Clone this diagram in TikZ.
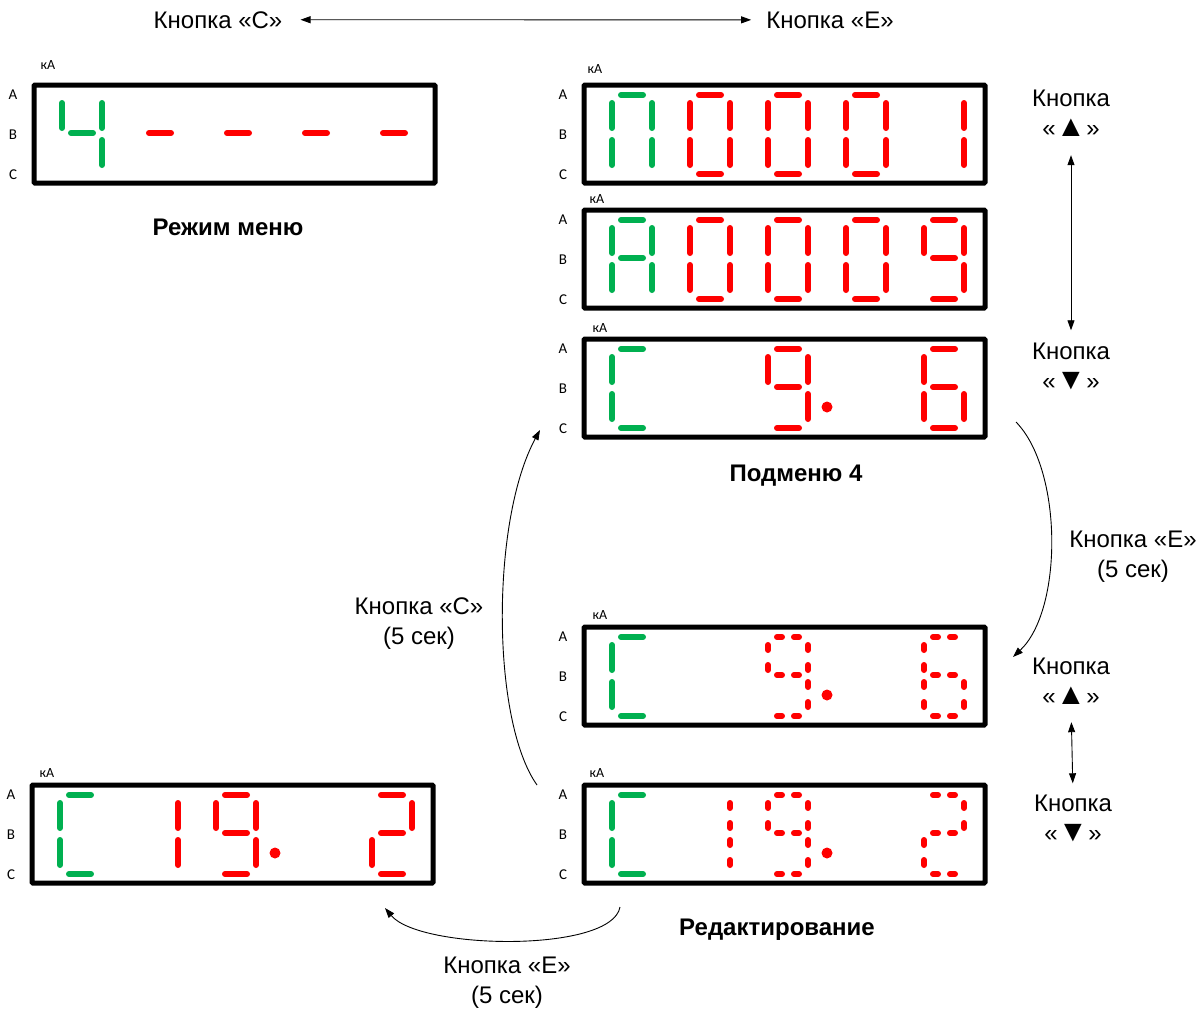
\documentclass[tikz,border=0pt]{standalone}
\usepackage{fontspec}
\setmainfont{Liberation Sans}
\newfontfamily\calfont{Carlito}
\usetikzlibrary{arrows.meta,calc}
\definecolor{sgreen}{RGB}{0,176,80}
\definecolor{sred}{RGB}{255,0,0}
\newcommand\SEGa[2]{\draw[seg,#1,#2h] (9,10) -- (31,10);}
\newcommand\SEGb[2]{\draw[seg,#1,#2v] (40,18) -- (40,43);}
\newcommand\SEGc[2]{\draw[seg,#1,#2v] (40,55) -- (40,80);}
\newcommand\SEGd[2]{\draw[seg,#1,#2h] (9,89) -- (31,89);}
\newcommand\SEGe[2]{\draw[seg,#1,#2v] (0,55) -- (0,80);}
\newcommand\SEGf[2]{\draw[seg,#1,#2v] (0,18) -- (0,43);}
\newcommand\SEGg[2]{\draw[seg,#1,#2h] (9,48) -- (31,48);}
\newcommand\digitat[5]{\begin{scope}[shift={(#1,#2)}]\foreach \s in {#5}{\csname SEG\s\endcsname{#3}{#4}}\end{scope}}
\newcommand\display[5]{%
  \node[dbox] (#1) at (#2+200.5,#3+49) {};
  \node[abc] (#1A) at (#2-21,#3+10) {A};
  \node[abc] (#1B) at (#2-21,#3+50) {B};
  \node[abc] (#1C) at (#2-21,#3+90) {C};
  \node[ka] (#1K) at (#4,#5) {кА};}
\newcommand\dotat[2]{\fill[sred] (#1+243,#2+68) circle (5.5);}
\newcommand\gap{\hspace{0.5pt}}
\newcommand\upT{{\fontsize{30}{30}\selectfont ▲}}
\newcommand\dnT{{\fontsize{30}{30}\selectfont ▼}}
\begin{document}
\begin{tikzpicture}[x=1pt,y=-1pt,
  seg/.style={line width=6pt,line cap=round},
  gr/.style={draw=sgreen}, rd/.style={draw=sred},
  segSh/.style={}, segSv/.style={},
  segDh/.style={dash pattern=on 5pt off 12pt},
  segDv/.style={dash pattern=on 5pt off 15pt},
  dbox/.style={draw,line width=5pt,rounded corners=1pt,minimum width=401pt,minimum height=98pt,inner sep=0pt},
  abc/.style={font=\calfont\fontsize{15}{18}\selectfont,inner sep=0pt},
  ka/.style={font=\calfont\fontsize{14}{16}\selectfont,inner sep=0pt},
  lbl/.style={font=\fontsize{24}{30}\selectfont,align=center,inner sep=0pt,anchor=base},
  bl/.style={font=\fontsize{24}{28}\selectfont\bfseries,inner sep=0pt,anchor=base},
  conn/.style={line width=0.9pt},
  >={Triangle[length=10pt,width=7pt]}]
\useasboundingbox (0,0) rectangle (1202,1009);
% displays
\display{D1}{34}{85}{48}{65}
\display{D2}{584}{85}{595}{69}
\display{D3}{584}{210}{597}{199}
\display{D4}{584}{339}{600}{328}
\display{D5}{584}{627}{600}{615}
\display{D6}{584}{785}{597}{773}
\display{D7}{32}{785}{47}{773}
% D1: 4 - - - -
\digitat{62}{85}{gr}{segS}{b,c,f,g}
\foreach \xx in {140,218,296,374}{\digitat{\xx}{85}{rd}{segS}{g}}
% D2: П0001
\digitat{612}{85}{gr}{segS}{a,b,c,e,f}
\foreach \xx in {690,768,846}{\digitat{\xx}{85}{rd}{segS}{a,b,c,d,e,f}}
\digitat{924}{85}{rd}{segS}{b,c}
% D3: A0009
\digitat{612}{210}{gr}{segS}{a,b,c,e,f,g}
\foreach \xx in {690,768,846}{\digitat{\xx}{210}{rd}{segS}{a,b,c,d,e,f}}
\digitat{924}{210}{rd}{segS}{a,b,c,d,f,g}
% D4: C 9. 6
\digitat{612}{339}{gr}{segS}{a,d,e,f}
\digitat{768}{339}{rd}{segS}{a,b,c,d,f,g}
\dotat{584}{339}
\digitat{924}{339}{rd}{segS}{a,c,d,e,f,g}
% D5: C 9. 6 dashed
\digitat{612}{627}{gr}{segS}{a,d,e,f}
\digitat{768}{627}{rd}{segD}{a,b,c,d,f,g}
\dotat{584}{627}
\digitat{924}{627}{rd}{segD}{a,c,d,e,f,g}
% D6: C 19. 2 dashed
\digitat{612}{785}{gr}{segS}{a,d,e,f}
\digitat{690}{785}{rd}{segD}{b,c}
\digitat{768}{785}{rd}{segD}{a,b,c,d,f,g}
\dotat{584}{785}
\digitat{924}{785}{rd}{segD}{a,b,d,e,g}
% D7: C 19. 2
\digitat{60}{785}{gr}{segS}{a,d,e,f}
\digitat{138}{785}{rd}{segS}{b,c}
\digitat{216}{785}{rd}{segS}{a,b,c,d,f,g}
\dotat{32}{785}
\digitat{372}{785}{rd}{segS}{a,b,d,e,g}
% labels
\node[lbl] (tC) at (218,28) {Кнопка «С»};
\node[lbl] (tE) at (830,28) {Кнопка «Е»};
\node[lbl] (u1) at (1071,136) {Кнопка\\«\gap\upT\gap»};
\node[lbl] (w1) at (1071,389) {Кнопка\\«\gap\dnT\gap»};
\node[lbl] (e5) at (1133,577) {Кнопка «Е»\\(5 сек)};
\node[lbl] (u2) at (1071,704) {Кнопка\\«\gap\upT\gap»};
\node[lbl] (w2) at (1073,841) {Кнопка\\«\gap\dnT\gap»};
\node[lbl] (c5) at (419,644) {Кнопка «С»\\(5 сек)};
\node[lbl] (eb) at (507,1003) {Кнопка «Е»\\(5 сек)};
\node[bl] (m1) at (228,235) {Режим меню};
\node[bl] (m4) at (796,481) {Подменю 4};
\node[bl] (m5) at (777,935) {Редактирование};
% connectors
\draw[conn,<->,shorten <=18pt,shorten >=15pt] (tC.east) -- (tE.west);
\draw[conn,<->,shorten <=19pt,shorten >=12pt] (u1.south) -- (w1.north);
\draw[conn,<->,shorten <=18pt,shorten >=11pt] (u2.south) -- (w2.north);
\coordinate (r1) at (1016,422);
\coordinate (r2) at (1013,657);
\draw[conn,->] (r1) .. controls (1063,470) and (1063,610) .. (r2);
\coordinate (l1) at (537,785);
\coordinate (l2) at (540,430);
\draw[conn,->] (l1) .. controls (491,720) and (491,520) .. (l2);
\coordinate (b1) at (620,907);
\coordinate (b2) at (385,908);
\draw[conn,->] (b1) .. controls (612,953) and (420,950) .. (b2);
\end{tikzpicture}
\end{document}
